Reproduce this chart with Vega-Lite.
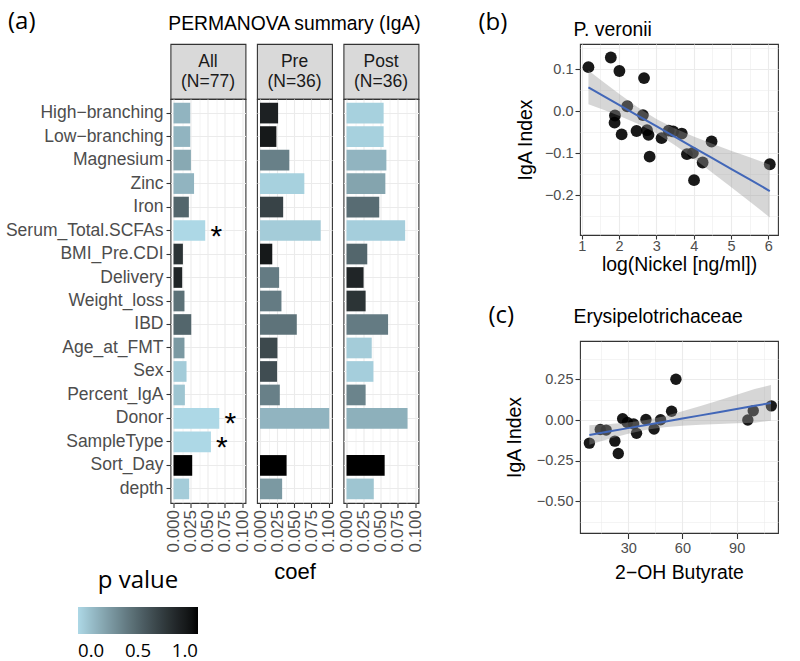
{
 "$schema": "https://vega.github.io/schema/vega-lite/v6.json",
 "background": "white",
 "padding": {"left": 4.5, "top": 9, "right": 5, "bottom": 0},
 "datasets": {
  "perm": [
   {"g":"All","v":"High−branching","coef":0.0244,"p":0.15,"star":""},
   {"g":"All","v":"Low−branching","coef":0.0244,"p":0.15,"star":""},
   {"g":"All","v":"Magnesium","coef":0.0254,"p":0.2,"star":""},
   {"g":"All","v":"Zinc","coef":0.030,"p":0.15,"star":""},
   {"g":"All","v":"Iron","coef":0.0224,"p":0.5,"star":""},
   {"g":"All","v":"Serum_Total.SCFAs","coef":0.0463,"p":0.0,"star":"*"},
   {"g":"All","v":"BMI_Pre.CDI","coef":0.0137,"p":0.75,"star":""},
   {"g":"All","v":"Delivery","coef":0.0127,"p":0.83,"star":""},
   {"g":"All","v":"Weight_loss","coef":0.016,"p":0.45,"star":""},
   {"g":"All","v":"IBD","coef":0.0259,"p":0.5,"star":""},
   {"g":"All","v":"Age_at_FMT","coef":0.016,"p":0.27,"star":""},
   {"g":"All","v":"Sex","coef":0.019,"p":0.05,"star":""},
   {"g":"All","v":"Percent_IgA","coef":0.0166,"p":0.08,"star":""},
   {"g":"All","v":"Donor","coef":0.0668,"p":0.0,"star":"*"},
   {"g":"All","v":"SampleType","coef":0.0546,"p":0.0,"star":"*"},
   {"g":"All","v":"Sort_Day","coef":0.0273,"p":1.0,"star":""},
   {"g":"All","v":"depth","coef":0.0229,"p":0.05,"star":""},
   {"g":"Pre","v":"High−branching","coef":0.0264,"p":0.85,"star":""},
   {"g":"Pre","v":"Low−branching","coef":0.0239,"p":0.9,"star":""},
   {"g":"Pre","v":"Magnesium","coef":0.0428,"p":0.38,"star":""},
   {"g":"Pre","v":"Zinc","coef":0.0647,"p":0.03,"star":""},
   {"g":"Pre","v":"Iron","coef":0.0338,"p":0.67,"star":""},
   {"g":"Pre","v":"Serum_Total.SCFAs","coef":0.0886,"p":0.05,"star":""},
   {"g":"Pre","v":"BMI_Pre.CDI","coef":0.0179,"p":0.9,"star":""},
   {"g":"Pre","v":"Delivery","coef":0.0279,"p":0.4,"star":""},
   {"g":"Pre","v":"Weight_loss","coef":0.0313,"p":0.4,"star":""},
   {"g":"Pre","v":"IBD","coef":0.0537,"p":0.44,"star":""},
   {"g":"Pre","v":"Age_at_FMT","coef":0.0254,"p":0.64,"star":""},
   {"g":"Pre","v":"Sex","coef":0.0249,"p":0.62,"star":""},
   {"g":"Pre","v":"Percent_IgA","coef":0.0289,"p":0.38,"star":""},
   {"g":"Pre","v":"Donor","coef":0.101,"p":0.15,"star":""},
   {"g":"Pre","v":"Sort_Day","coef":0.0388,"p":1.0,"star":""},
   {"g":"Pre","v":"depth","coef":0.0323,"p":0.27,"star":""},
   {"g":"Post","v":"High−branching","coef":0.0542,"p":0.03,"star":""},
   {"g":"Post","v":"Low−branching","coef":0.0542,"p":0.03,"star":""},
   {"g":"Post","v":"Magnesium","coef":0.0582,"p":0.15,"star":""},
   {"g":"Post","v":"Zinc","coef":0.0567,"p":0.22,"star":""},
   {"g":"Post","v":"Iron","coef":0.0478,"p":0.47,"star":""},
   {"g":"Post","v":"Serum_Total.SCFAs","coef":0.0856,"p":0.04,"star":""},
   {"g":"Post","v":"BMI_Pre.CDI","coef":0.0303,"p":0.5,"star":""},
   {"g":"Post","v":"Delivery","coef":0.0249,"p":0.83,"star":""},
   {"g":"Post","v":"Weight_loss","coef":0.0279,"p":0.75,"star":""},
   {"g":"Post","v":"IBD","coef":0.0607,"p":0.4,"star":""},
   {"g":"Post","v":"Age_at_FMT","coef":0.0368,"p":0.05,"star":""},
   {"g":"Post","v":"Sex","coef":0.0393,"p":0.04,"star":""},
   {"g":"Post","v":"Percent_IgA","coef":0.0279,"p":0.36,"star":""},
   {"g":"Post","v":"Donor","coef":0.0891,"p":0.17,"star":""},
   {"g":"Post","v":"Sort_Day","coef":0.0557,"p":1.0,"star":""},
   {"g":"Post","v":"depth","coef":0.0398,"p":0.08,"star":""}
  ],
  "bpts": [
   {"x":1.18,"y":0.105},{"x":1.78,"y":0.128},{"x":2.01,"y":0.096},{"x":2.67,"y":0.079},
   {"x":2.22,"y":0.012},{"x":1.89,"y":-0.010},{"x":1.88,"y":-0.027},{"x":2.07,"y":-0.055},
   {"x":2.47,"y":-0.047},{"x":2.64,"y":-0.009},{"x":2.75,"y":-0.045},{"x":2.79,"y":-0.056},
   {"x":2.82,"y":-0.108},{"x":3.14,"y":-0.064},{"x":3.33,"y":-0.046},{"x":3.45,"y":-0.048},
   {"x":3.68,"y":-0.053},{"x":3.82,"y":-0.102},{"x":3.98,"y":-0.099},{"x":4.01,"y":-0.164},
   {"x":4.24,"y":-0.122},{"x":4.48,"y":-0.072},{"x":6.04,"y":-0.126}
  ],
  "bfit": [
   {"x":1.18,"lo":0.017,"fit":0.057,"hi":0.097},
   {"x":1.6,"lo":0.0031,"fit":0.0357,"hi":0.0683},
   {"x":2.0,"lo":-0.0109,"fit":0.0153,"hi":0.0415},
   {"x":2.5,"lo":-0.0298,"fit":-0.0101,"hi":0.0096},
   {"x":3.0,"lo":-0.0525,"fit":-0.0355,"hi":-0.0185},
   {"x":3.5,"lo":-0.0806,"fit":-0.0609,"hi":-0.0412},
   {"x":4.0,"lo":-0.1125,"fit":-0.0863,"hi":-0.0601},
   {"x":4.5,"lo":-0.1461,"fit":-0.1117,"hi":-0.0773},
   {"x":5.0,"lo":-0.1803,"fit":-0.137,"hi":-0.0937},
   {"x":5.5,"lo":-0.2146,"fit":-0.162,"hi":-0.1094},
   {"x":6.04,"lo":-0.2528,"fit":-0.1899,"hi":-0.127}
  ],
  "cpts": [
   {"x":8.5,"y":-0.142},{"x":14.5,"y":-0.058},{"x":17.8,"y":-0.062},{"x":22.6,"y":-0.13},
   {"x":24.5,"y":-0.206},{"x":26.9,"y":0.008},{"x":29.5,"y":-0.015},{"x":33.0,"y":-0.025},
   {"x":34.6,"y":-0.082},{"x":39.8,"y":0.003},{"x":44.3,"y":-0.055},{"x":47.9,"y":0.002},
   {"x":54.0,"y":0.054},{"x":56.4,"y":0.251},{"x":96.2,"y":0.0},{"x":99.2,"y":0.057},
   {"x":109.2,"y":0.087}
  ],
  "cfit": [
   {"x":8.5,"lo":-0.152,"fit":-0.092,"hi":-0.032},
   {"x":20,"lo":-0.1141,"fit":-0.0695,"hi":-0.0249},
   {"x":30,"lo":-0.0841,"fit":-0.0499,"hi":-0.0157},
   {"x":40,"lo":-0.0603,"fit":-0.0303,"hi":-0.0003},
   {"x":50,"lo":-0.0449,"fit":-0.0107,"hi":0.0235},
   {"x":60,"lo":-0.0357,"fit":0.0089,"hi":0.0535},
   {"x":70,"lo":-0.0294,"fit":0.0285,"hi":0.0864},
   {"x":80,"lo":-0.0244,"fit":0.0481,"hi":0.1206},
   {"x":90,"lo":-0.02,"fit":0.0677,"hi":0.1554},
   {"x":100,"lo":-0.0161,"fit":0.0873,"hi":0.1907},
   {"x":109,"lo":-0.005,"fit":0.105,"hi":0.215}
  ]
 },
 "spacing": 52.5,
 "bounds": "full",
 "resolve": {"scale": {"x": "independent", "y": "independent", "fill": "shared"}, "axis": {"x": "independent", "y": "independent"}},
 "hconcat": [
  {
   "columns": 3,
   "spacing": {"row": 0, "column": 11.5},
   "bounds": "flush",
   "resolve": {"scale": {"x": "independent", "y": "independent", "fill": "shared"}, "axis": {"x": "independent", "y": "independent"}},
   "concat": [
    {"width":75,"height":55,"view":{"fill":"#d9d9d9","stroke":"#333333","strokeWidth":1.1},
     "title":{"text":"(a)","anchor":"start","frame":"group","dx":-162.5,"offset":10,"font":"Open Sans","fontSize":24},
     "data":{"values":[{"k":1}]},
     "mark":{"type":"text","fontSize":17.5,"color":"#1a1a1a","baseline":"middle","lineHeight":20,"dy":-10},
     "encoding":{"text":{"value":["All","(N=77)"]}}},
    {"width":75,"height":55,"view":{"fill":"#d9d9d9","stroke":"#333333","strokeWidth":1.1},
     "title":{"text":"PERMANOVA summary (IgA)","anchor":"middle","frame":"group","offset":10,"fontSize":19.3},
     "data":{"values":[{"k":1}]},
     "mark":{"type":"text","fontSize":17.5,"color":"#1a1a1a","baseline":"middle","lineHeight":20,"dy":-10},
     "encoding":{"text":{"value":["Pre","(N=36)"]}}},
    {"width":75,"height":55,"view":{"fill":"#d9d9d9","stroke":"#333333","strokeWidth":1.1},
     "data":{"values":[{"k":1}]},
     "mark":{"type":"text","fontSize":17.5,"color":"#1a1a1a","baseline":"middle","lineHeight":20,"dy":-10},
     "encoding":{"text":{"value":["Post","(N=36)"]}}},
    {"width":75,"height":404,"data":{"name":"perm"},"transform":[{"filter":"datum.g==='All'"}],
     "resolve":{"axis":{"x":"independent"}},
     "layer":[
      {"mark":{"type":"bar"},
       "encoding":{
        "y":{"field":"v","type":"nominal","scale":{"domain":["High−branching","Low−branching","Magnesium","Zinc","Iron","Serum_Total.SCFAs","BMI_Pre.CDI","Delivery","Weight_loss","IBD","Age_at_FMT","Sex","Percent_IgA","Donor","SampleType","Sort_Day","depth"],"paddingInner":0.12,"paddingOuter":0.16},
         "axis":{"title":null,"labels":true,"ticks":true,"labelFontSize":17.5,"tickSize":4.5,"labelPadding":3,"grid":true,"gridWidth":1.1}},
        "x":{"field":"coef","type":"quantitative","scale":{"domain":[-0.0044,0.1051],"nice":false,"zero":false},
         "axis":{"orient":"bottom","values":[0,0.025,0.05,0.075,0.1],"format":".3f","labelAngle":270,"labelFontSize":17,"tickSize":4.5,"labelPadding":2,"labelOverlap":false,"title":null,"gridWidth":1.1}},
        "fill":{"field":"p","type":"quantitative","scale":{"domain":[0,1],"range":["#add8e6","#000000"],"interpolate":"lab"},
         "legend":{"orient":"none","legendX":-92.5,"legendY":525.3,"direction":"horizontal","title":"p value","titleFont":"Open Sans","titleFontSize":24,"titleFontWeight":"normal","titleColor":"#000000","titleAnchor":"middle","titlePadding":13.7,"gradientLength":120,"gradientThickness":27,"gradientStrokeWidth":0,"values":[0,0.5,1],"format":".1f","labelFont":"Open Sans","labelFontSize":18.6,"labelColor":"#000000","labelOffset":8,"labelAlign":"center","padding":0}}
       }},
      {"mark":{"type":"point","opacity":0},
       "encoding":{
        "y":{"field":"v","type":"nominal"},
        "x":{"field":"coef","type":"quantitative","axis":{"orient":"top","values":[0.0125,0.0375,0.0625,0.0875],"labels":false,"ticks":false,"domain":false,"grid":true,"gridWidth":0.55,"title":null}}}},
      {"transform":[{"filter":"datum.star != ''"}],
       "mark":{"type":"text","fontSize":30,"color":"#000000","align":"center","baseline":"middle","dx":11,"dy":6},
       "encoding":{
        "y":{"field":"v","type":"nominal"},
        "x":{"field":"coef","type":"quantitative","axis":null},
        "text":{"field":"star"}}}
     ]},
    {"width":75,"height":404,"data":{"name":"perm"},"transform":[{"filter":"datum.g==='Pre'"}],
     "resolve":{"axis":{"x":"independent"}},
     "layer":[
      {"mark":{"type":"bar"},
       "encoding":{
        "y":{"field":"v","type":"nominal","scale":{"domain":["High−branching","Low−branching","Magnesium","Zinc","Iron","Serum_Total.SCFAs","BMI_Pre.CDI","Delivery","Weight_loss","IBD","Age_at_FMT","Sex","Percent_IgA","Donor","SampleType","Sort_Day","depth"],"paddingInner":0.12,"paddingOuter":0.16},
         "axis":{"title":null,"labels":false,"ticks":false,"grid":true,"gridWidth":1.1}},
        "x":{"field":"coef","type":"quantitative","scale":{"domain":[-0.0044,0.1051],"nice":false,"zero":false},
         "axis":{"orient":"bottom","values":[0,0.025,0.05,0.075,0.1],"format":".3f","labelAngle":270,"labelFontSize":17,"tickSize":4.5,"labelPadding":2,"labelOverlap":false,"gridWidth":1.1,
          "title":"coef","titleFontSize":22,"titleColor":"#000000","titleY":75,"titleBaseline":"alphabetic"}},
        "fill":{"field":"p","type":"quantitative","scale":{"domain":[0,1],"range":["#add8e6","#000000"],"interpolate":"lab"},
         "legend":{"orient":"none","legendX":-92.5,"legendY":525.3,"direction":"horizontal","title":"p value","titleFont":"Open Sans","titleFontSize":24,"titleFontWeight":"normal","titleColor":"#000000","titleAnchor":"middle","titlePadding":13.7,"gradientLength":120,"gradientThickness":27,"gradientStrokeWidth":0,"values":[0,0.5,1],"format":".1f","labelFont":"Open Sans","labelFontSize":18.6,"labelColor":"#000000","labelOffset":8,"labelAlign":"center","padding":0}}
       }},
      {"mark":{"type":"point","opacity":0},
       "encoding":{
        "y":{"field":"v","type":"nominal"},
        "x":{"field":"coef","type":"quantitative","axis":{"orient":"top","values":[0.0125,0.0375,0.0625,0.0875],"labels":false,"ticks":false,"domain":false,"grid":true,"gridWidth":0.55,"title":null}}}}
     ]},
    {"width":75,"height":404,"data":{"name":"perm"},"transform":[{"filter":"datum.g==='Post'"}],
     "resolve":{"axis":{"x":"independent"}},
     "layer":[
      {"mark":{"type":"bar"},
       "encoding":{
        "y":{"field":"v","type":"nominal","scale":{"domain":["High−branching","Low−branching","Magnesium","Zinc","Iron","Serum_Total.SCFAs","BMI_Pre.CDI","Delivery","Weight_loss","IBD","Age_at_FMT","Sex","Percent_IgA","Donor","SampleType","Sort_Day","depth"],"paddingInner":0.12,"paddingOuter":0.16},
         "axis":{"title":null,"labels":false,"ticks":false,"grid":true,"gridWidth":1.1}},
        "x":{"field":"coef","type":"quantitative","scale":{"domain":[-0.0044,0.1051],"nice":false,"zero":false},
         "axis":{"orient":"bottom","values":[0,0.025,0.05,0.075,0.1],"format":".3f","labelAngle":270,"labelFontSize":17,"tickSize":4.5,"labelPadding":2,"labelOverlap":false,"title":null,"gridWidth":1.1}},
        "fill":{"field":"p","type":"quantitative","scale":{"domain":[0,1],"range":["#add8e6","#000000"],"interpolate":"lab"},
         "legend":{"orient":"none","legendX":-92.5,"legendY":525.3,"direction":"horizontal","title":"p value","titleFont":"Open Sans","titleFontSize":24,"titleFontWeight":"normal","titleColor":"#000000","titleAnchor":"middle","titlePadding":13.7,"gradientLength":120,"gradientThickness":27,"gradientStrokeWidth":0,"values":[0,0.5,1],"format":".1f","labelFont":"Open Sans","labelFontSize":18.6,"labelColor":"#000000","labelOffset":8,"labelAlign":"center","padding":0}}
       }},
      {"mark":{"type":"point","opacity":0},
       "encoding":{
        "y":{"field":"v","type":"nominal"},
        "x":{"field":"coef","type":"quantitative","axis":{"orient":"top","values":[0.0125,0.0375,0.0625,0.0875],"labels":false,"ticks":false,"domain":false,"grid":true,"gridWidth":0.55,"title":null}}}}
     ]}
   ]
  },
  {
   "spacing": 106,
   "bounds": "flush",
   "resolve": {"scale": {"x": "independent", "y": "independent"}, "axis": {"x": "independent", "y": "independent"}},
   "vconcat": [
    {"width":198,"height":191,
     "resolve":{"axis":{"x":"independent","y":"independent"}},
     "layer":[
      {"data":{"name":"bpts"},"mark":{"type":"circle","size":140,"color":"#000000","opacity":0.9,"clip":true},
       "encoding":{
        "x":{"field":"x","type":"quantitative","scale":{"domain":[0.954,6.26],"nice":false,"zero":false},
         "axis":{"orient":"bottom","values":[1,2,3,4,5,6],"format":"d","labelFontSize":14.5,"tickSize":4,"labelPadding":0,"labelOverlap":false,"gridWidth":1.1,
          "title":"log(Nickel [ng/ml])","titleFontSize":19.4,"titleY":35.5,"titleBaseline":"alphabetic"}},
        "y":{"field":"y","type":"quantitative","scale":{"domain":[-0.2945,0.1602],"nice":false,"zero":false},
         "axis":{"orient":"left","values":[-0.2,-0.1,0,0.1],"format":".1f","labelFontSize":14.5,"tickSize":5,"labelPadding":2,"labelOverlap":false,"gridWidth":1.1,
          "title":"IgA Index","titleFontSize":19.4,"titleX":-48.3,"titleBaseline":"alphabetic"}}
       }},
      {"data":{"name":"bfit"},"mark":{"type":"area","color":"#999999","opacity":0.4,"clip":true},
       "encoding":{
        "x":{"field":"x","type":"quantitative","scale":{"domain":[0.954,6.26],"nice":false,"zero":false},
         "axis":{"orient":"top","values":[1.5,2.5,3.5,4.5,5.5],"labels":false,"ticks":false,"domain":false,"grid":true,"gridWidth":0.55,
          "title":"(b)","titleFont":"Open Sans","titleFontSize":24,"titleColor":"#000000","titleAngle":0,"titleAlign":"left","titleBaseline":"alphabetic","titleX":-102,"titleY":-15}},
        "y":{"field":"lo","type":"quantitative","scale":{"domain":[-0.2945,0.1602],"nice":false,"zero":false},
         "axis":{"orient":"right","values":[-0.25,-0.15,-0.05,0.05,0.15],"labels":false,"ticks":false,"domain":false,"grid":true,"gridWidth":0.55,
          "title":"P. veronii","titleFontSize":19.4,"titleColor":"#000000","titleAngle":0,"titleAlign":"left","titleBaseline":"alphabetic","titleX":-205,"titleY":-9}},
        "y2":{"field":"hi"}}},
      {"data":{"name":"bfit"},"mark":{"type":"line","color":"#4267b8","strokeWidth":2,"clip":true},
       "encoding":{
        "x":{"field":"x","type":"quantitative","axis":null},
        "y":{"field":"fit","type":"quantitative","axis":null}}}
     ]},
    {"width":198,"height":192,
     "resolve":{"axis":{"x":"independent","y":"independent"}},
     "layer":[
      {"data":{"name":"cpts"},"mark":{"type":"circle","size":130,"color":"#000000","opacity":0.9,"clip":true},
       "encoding":{
        "x":{"field":"x","type":"quantitative","scale":{"domain":[3.3,112.9],"nice":false,"zero":false},
         "axis":{"orient":"bottom","values":[30,60,90],"format":"d","labelFontSize":14.5,"tickSize":5.5,"labelPadding":3,"labelOverlap":false,"gridWidth":1.1,
          "title":"2−OH Butyrate","titleFontSize":19.4,"titleY":45.3,"titleBaseline":"alphabetic"}},
        "y":{"field":"y","type":"quantitative","scale":{"domain":[-0.695,0.486],"nice":false,"zero":false},
         "axis":{"orient":"left","values":[-0.5,-0.25,0,0.25],"format":".2f","labelFontSize":14.5,"tickSize":5,"labelPadding":2,"labelOverlap":false,"gridWidth":1.1,
          "title":"IgA Index","titleFontSize":19.4,"titleX":-59.6,"titleBaseline":"alphabetic"}}
       }},
      {"data":{"name":"cfit"},"mark":{"type":"area","color":"#999999","opacity":0.4,"clip":true},
       "encoding":{
        "x":{"field":"x","type":"quantitative","scale":{"domain":[3.3,112.9],"nice":false,"zero":false},
         "axis":{"orient":"top","values":[15,45,75,105],"labels":false,"ticks":false,"domain":false,"grid":true,"gridWidth":0.55,
          "title":"(c)","titleFont":"Open Sans","titleFontSize":24,"titleColor":"#000000","titleAngle":0,"titleAlign":"left","titleBaseline":"alphabetic","titleX":-92,"titleY":-19}},
        "y":{"field":"lo","type":"quantitative","scale":{"domain":[-0.695,0.486],"nice":false,"zero":false},
         "axis":{"orient":"right","values":[-0.625,-0.375,-0.125,0.125,0.375],"labels":false,"ticks":false,"domain":false,"grid":true,"gridWidth":0.55,
          "title":"Erysipelotrichaceae","titleFontSize":19.4,"titleColor":"#000000","titleAngle":0,"titleAlign":"left","titleBaseline":"alphabetic","titleX":-205,"titleY":-19}},
        "y2":{"field":"hi"}}},
      {"data":{"name":"cfit"},"mark":{"type":"line","color":"#4267b8","strokeWidth":2,"clip":true},
       "encoding":{
        "x":{"field":"x","type":"quantitative","axis":null},
        "y":{"field":"fit","type":"quantitative","axis":null}}}
     ]}
   ]
  }
 ],
 "config": {
  "font": "Liberation Sans",
  "view": {"stroke": "#333333", "strokeWidth": 1.1},
  "axis": {"domain": false, "grid": true, "gridColor": "#ebebeb", "tickColor": "#333333", "tickWidth": 1.1, "labelColor": "#4d4d4d", "titleColor": "#000000", "titleFontWeight": "normal", "labelFont": "Liberation Sans", "titleFont": "Liberation Sans", "labelOverlap": false},
  "title": {"fontWeight": "normal", "color": "#000000", "font": "Liberation Sans", "baseline": "alphabetic"}
 }
}
